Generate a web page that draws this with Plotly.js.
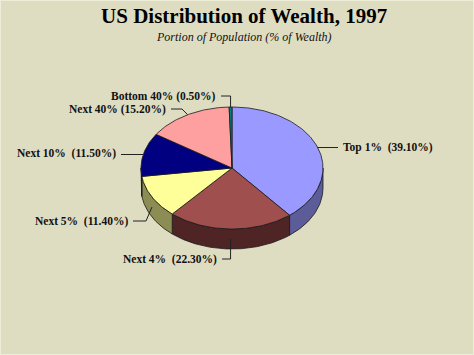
<!DOCTYPE html>
<html>
<head>
<meta charset="utf-8">
<script src="https://cdn.plot.ly/plotly-3.0.1.min.js"></script>
<style>html,body{margin:0;padding:0;background:#DFDDC1;}#chart{width:474px;height:355px;}</style>
</head>
<body>
<div id="chart"></div>
<script>
// ---- data ----
const categories = ["Top 1%", "Next 4%", "Next 5%", "Next 10%", "Next 40%", "Bottom 40%"];
const wealthShares = [39.1, 22.3, 11.4, 11.5, 15.2, 0.5];
const labelTexts = ["Top 1%  (39.10%)", "Next 4%  (22.30%)", "Next 5%  (11.40%)",
                    "Next 10%  (11.50%)", "Next 40% (15.20%)", "Bottom 40% (0.50%)"];
const titleText = "US Distribution of Wealth, 1997";
const subtitleText = "Portion of Population (% of Wealth)";

// ---- style ----
const topColors  = ["#9999FF", "#A04F4F", "#FFFF99", "#000080", "#FFA0A0", "#008080"];
const sideColors = ["#5C5C99", "#4F2424", "#8C8C55", "#000045", "#996060", "#004C4C"];
const geo = {cx: 232, cy: 168, rx: 91, ry: 61, depth: 20};
const serif = "Liberation Serif, Times New Roman, serif";
// label placement: elbow path offsets and text anchor
const labelLayout = [
  {onSide: false, path: [[338, 0]], anchor: "left", tx: 341, ty: 147},
  {onSide: true,  path: [[0, 259], [222, 259]], anchor: "right", tx: 219, ty: 259, vert: true},
  {onSide: true,  path: [[146, 221], [133, 221]], anchor: "right", tx: 130, ty: 221},
  {onSide: false, path: [[121, 0]], anchor: "right", tx: 118, ty: 153},
  {onSide: false, path: [[182, 109], [171, 109]], anchor: "right", tx: 168, ty: 109},
  {onSide: false, path: [[0, 96], [221, 96]], anchor: "right", tx: 218, ty: 96, vert: true}
];

function pt(deg, dy) {
  const r = deg * Math.PI / 180;
  return [geo.cx + geo.rx * Math.sin(r), geo.cy - geo.ry * Math.cos(r) + (dy || 0)];
}
function arc(a, b, dy) {
  const pts = [];
  const n = Math.max(2, Math.ceil(Math.abs(b - a) / 1));
  for (let k = 0; k <= n; k++) pts.push(pt(a + (b - a) * k / n, dy));
  return pts;
}

const total = wealthShares.reduce((s, v) => s + v, 0);
const starts = [], ends = [];
let acc = 0;
wealthShares.forEach(v => { starts.push(acc / total * 360); acc += v; ends.push(acc / total * 360); });

const sideTraces = [], topTraces = [];
wealthShares.forEach((v, i) => {
  const a = starts[i], b = ends[i];
  const s = Math.max(a, 90), e = Math.min(b, 270);
  if (e > s) {
    const poly = arc(s, e, 0).concat(arc(e, s, geo.depth));
    poly.push(poly[0]);
    sideTraces.push({
      type: "scatter", mode: "lines", fill: "toself",
      x: poly.map(p => p[0]), y: poly.map(p => p[1]),
      fillcolor: sideColors[i], line: {color: "#1a1a1a", width: 0.8},
      hoverinfo: "text", text: categories[i] + ": " + v.toFixed(2) + "%", showlegend: false
    });
  }
  const poly = [[geo.cx, geo.cy]].concat(arc(a, b, 0));
  poly.push([geo.cx, geo.cy]);
  topTraces.push({
    type: "scatter", mode: "lines", fill: "toself",
    x: poly.map(p => p[0]), y: poly.map(p => p[1]),
    fillcolor: topColors[i], line: {color: "#1a1a1a", width: 0.8},
    hoverinfo: "text", text: categories[i] + ": " + v.toFixed(2) + "%",
    name: categories[i], showlegend: false
  });
});

const shapes = [];
const annotations = [];
wealthShares.forEach((v, i) => {
  const L = labelLayout[i];
  const mid = (starts[i] + ends[i]) / 2;
  const p0 = pt(mid, L.onSide ? geo.depth / 2 : 0);
  let d = "M" + p0[0] + "," + p0[1];
  L.path.forEach((q, k) => {
    let x = q[0], y = q[1];
    if (k === 0 && L.vert) x = p0[0];
    if (y === 0) y = p0[1];
    d += " L" + x + "," + y;
  });
  shapes.push({type: "path", xref: "x", yref: "y", path: d, line: {color: "#222", width: 1}});
  annotations.push({
    x: L.tx, y: L.ty, xref: "x", yref: "y", text: labelTexts[i], showarrow: false,
    xanchor: L.anchor, yanchor: "middle",
    font: {family: serif, size: 11.5, color: "#111", weight: "bold"}
  });
});
annotations.push({
  x: 244, y: 37, xref: "x", yref: "y", text: subtitleText, showarrow: false,
  xanchor: "center", yanchor: "middle",
  font: {family: serif, size: 12, color: "#111", style: "italic"}
});
shapes.push({type: "rect", xref: "paper", yref: "paper", x0: 0, x1: 1, y0: 0, y1: 1,
             line: {color: "#EEEDD8", width: 2}});

const layout = {
  width: 474, height: 355,
  margin: {l: 0, r: 0, t: 0, b: 0},
  paper_bgcolor: "#DFDDC1", plot_bgcolor: "#DFDDC1",
  title: {
    text: titleText, x: 0.515, xanchor: "center", y: 0.957, yanchor: "middle", yref: "container",
    font: {family: serif, size: 21, color: "#000", weight: "bold"}
  },
  xaxis: {range: [0, 474], visible: false, fixedrange: true},
  yaxis: {range: [355, 0], visible: false, fixedrange: true},
  shapes: shapes, annotations: annotations, showlegend: false
};

Plotly.newPlot("chart", sideTraces.concat(topTraces), layout, {displayModeBar: false});
</script>
</body>
</html>
